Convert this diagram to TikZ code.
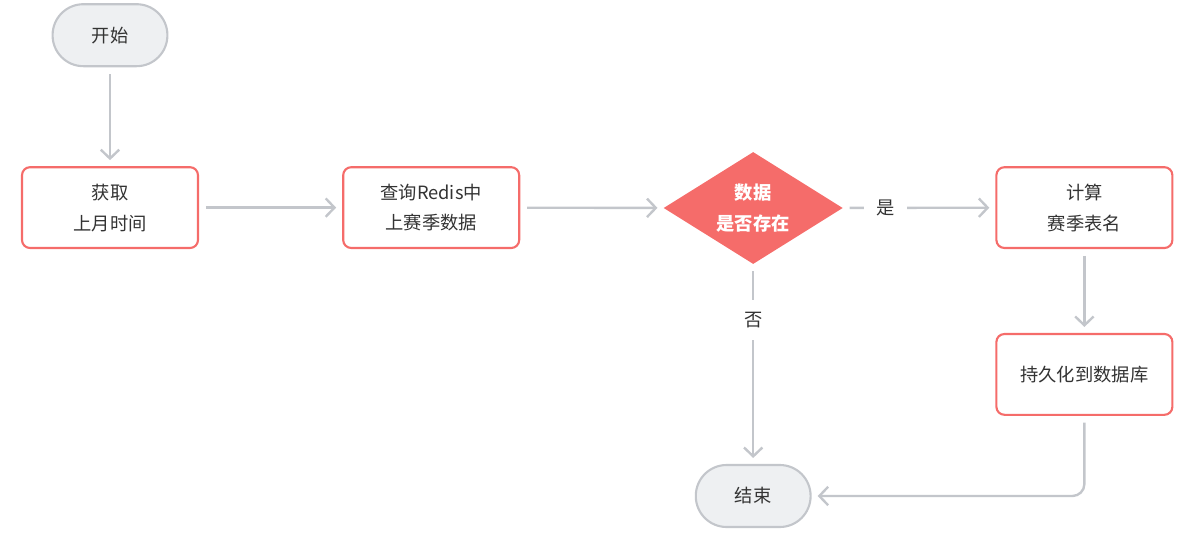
\documentclass[tikz,border=0pt]{standalone}
\usepackage{fontspec}
\setmainfont{Noto Sans CJK SC}
\usetikzlibrary{arrows.meta,positioning,shapes.geometric}
\definecolor{lred}{HTML}{F56C6A}
\definecolor{lgray}{HTML}{C3C6CB}
\definecolor{pill}{HTML}{EEF0F2}
\definecolor{txt}{HTML}{333333}
\begin{document}
\begin{tikzpicture}[>={Straight Barb[length=2.2mm,width=4.6mm]},font=\fontsize{13}{22}\selectfont,text=txt]
\tikzstyle{b}=[draw=lred,line width=1.5pt,rounded corners=0.2cm,fill=white,minimum width=4.4cm,minimum height=2.02cm,align=center]
\tikzstyle{term}=[draw=lgray,line width=1.5pt,fill=pill,rounded corners=0.77cm,minimum width=2.87cm,minimum height=1.55cm]
\tikzstyle{arr}=[->,draw=lgray,line width=1.7pt,shorten <=0.17cm,shorten >=0.15cm]
\tikzstyle{lab}=[fill=white,inner sep=0.3cm,pos=0.28]
\useasboundingbox (0,0) rectangle (29.725,-13.45);
\node[term] (start) at (2.75,-0.88) {开始};
\node[b] (get) at (2.75,-5.19) {获取\\上月时间};
\node[b] (query) at (10.78,-5.19) {查询Redis中\\上赛季数据};
\node[diamond,fill=lred,text=white,font=\fontsize{13}{22}\selectfont\bfseries,align=center,minimum width=4.48cm,minimum height=2.8cm,inner sep=-0.14cm] (check) at (18.83,-5.2) {数据\\是否存在};
\node[b] (calc) at (27.11,-5.19) {计算\\赛季表名};
\node[b] (save) at (27.11,-9.36) {持久化到数据库};
\node[term] (end) at (18.83,-12.4) {结束};
\draw[arr] (start) -- (get);
\draw[arr] (get) -- (query);
\draw[arr] (query) -- (check);
\draw[arr] (check) -- node[lab] (yes) {是} (calc);
\draw[arr] (check) -- node[lab] (no) {否} (end);
\draw[arr] (calc) -- (save);
\draw[arr,rounded corners=0.3cm] (save.south) |- (end.east);
\end{tikzpicture}
\end{document}
